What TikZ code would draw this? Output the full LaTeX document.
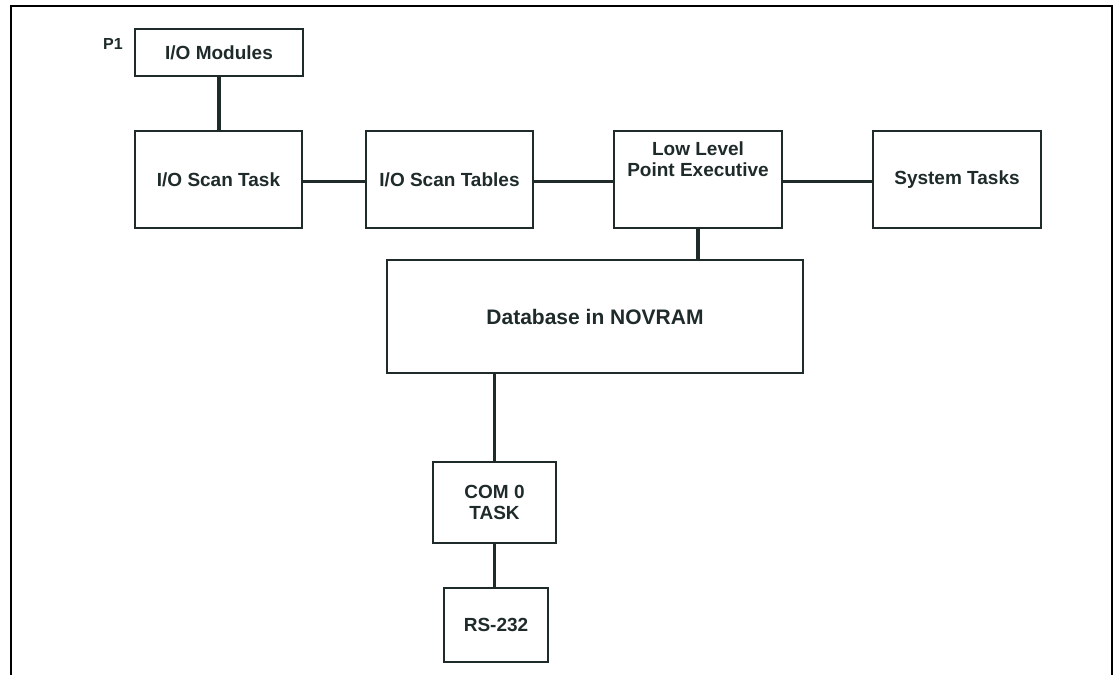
\documentclass[tikz,border=0pt]{standalone}
\usepackage{fontspec}
\setmainfont{Liberation Sans}
\usetikzlibrary{calc}
\usetikzlibrary{positioning}
\definecolor{ink}{HTML}{1F2A2A}

\begin{document}
\begin{tikzpicture}
    [%
        x=0.5pt,y=-0.5pt,%
        block/.style={%
            draw=ink,%
            line width=0.75pt,%
            rectangle,%
            text=ink,%
            font=\fontsize{9.5}{10.5}\selectfont\bfseries,%
            align=center,%
            inner sep=0pt%
        },%
        link/.style={%
            draw=ink,%
            line width=1.75pt%
        }%
    ]%
%
    \useasboundingbox (0,0) rectangle (1115,675);
    % outer frame, open at the bottom
    \draw[line width=1pt] (11,675) -- (11,6) -- (1112,6) -- (1112,675);
%
    % upper row of blocks
    \node[block, minimum width=84pt, minimum height=23.5pt] (io-modules) at (219,52.5) {I/O Modules};
    \node[text=ink, font=\fontsize{8}{9}\selectfont\bfseries, inner sep=0pt] (p1) at (113,44) {P1};
    \node[block, minimum width=83.5pt, minimum height=48.5pt] (io-scan-task) at (218.5,179.5) {I/O Scan Task};
    \node[block, minimum width=83.5pt, minimum height=48.5pt] (io-scan-tables) at (449.5,179.5) {I/O Scan Tables};
    \node[block, minimum width=84pt, minimum height=48.5pt,%
        label={[block, draw=none, anchor=north, yshift=-5.5pt]north:Low Level\\Point Executive}%
    ] (point-exec) at (698,179.5) {};
    \node[block, minimum width=84pt, minimum height=48.5pt] (system-tasks) at (957,179.5) {System Tasks};
%
    % database and the serial port chain
    \node[block, minimum width=208pt, minimum height=56.5pt, font=\fontsize{10.5}{12}\selectfont\bfseries] (database) at (595,316.5) {Database in NOVRAM};
    \node[block, minimum width=61.5pt, minimum height=40.5pt] (com-task) at (494.5,502.5) {COM 0\\TASK};
    \node[block, minimum width=52pt, minimum height=37pt] (rs-232) at (496,625) {RS-232};
%
    % connectors
    % \from/\to blocks joined side by side
    \foreach \from/\to in {%
        io-scan-task/io-scan-tables,%
        io-scan-tables/point-exec,%
        point-exec/system-tasks%
    }{%
        \draw[link] ([yshift=-1pt]\from.east) -- ([yshift=-1pt]\to.west);
    } % \foreach \from/\to
    \draw[link] (io-modules.south) -- (io-modules.south |- io-scan-task.north);
    \draw[link] (point-exec.south) -- (point-exec.south |- database.north);
    \draw[link] (com-task.north |- database.south) -- (com-task.north);
    \draw[link] (com-task.south) -- (com-task.south |- rs-232.north);
\end{tikzpicture}
\end{document}
